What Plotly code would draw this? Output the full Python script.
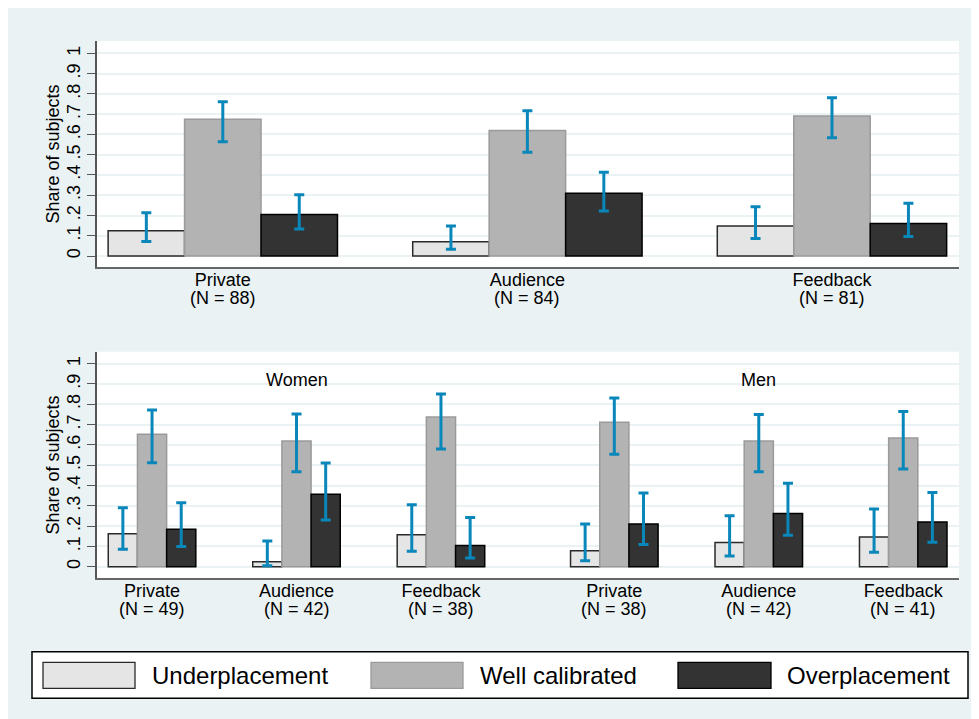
import plotly.graph_objects as go

# ---------------- data ----------------
top_categories = ["Private", "Audience", "Feedback"]
top_n = [88, 84, 81]
top_under = [0.125, 0.071, 0.148]
top_under_lo = [0.072, 0.033, 0.087]
top_under_hi = [0.214, 0.148, 0.243]
top_well = [0.675, 0.619, 0.691]
top_well_lo = [0.564, 0.512, 0.584]
top_well_hi = [0.761, 0.717, 0.781]
top_over = [0.205, 0.310, 0.160]
top_over_lo = [0.133, 0.222, 0.097]
top_over_hi = [0.302, 0.414, 0.260]

genders = ["Women", "Men"]
bottom_categories = ["Private", "Audience", "Feedback", "Private", "Audience", "Feedback"]
bottom_n = [49, 42, 38, 38, 42, 41]
bottom_under = [0.163, 0.024, 0.158, 0.079, 0.119, 0.146]
bottom_under_lo = [0.086, 0.005, 0.076, 0.030, 0.053, 0.071]
bottom_under_hi = [0.291, 0.127, 0.305, 0.210, 0.251, 0.284]
bottom_well = [0.653, 0.619, 0.737, 0.711, 0.619, 0.634]
bottom_well_lo = [0.512, 0.468, 0.580, 0.554, 0.468, 0.481]
bottom_well_hi = [0.772, 0.752, 0.851, 0.831, 0.750, 0.764]
bottom_over = [0.184, 0.357, 0.105, 0.211, 0.262, 0.220]
bottom_over_lo = [0.100, 0.230, 0.043, 0.110, 0.155, 0.120]
bottom_over_hi = [0.315, 0.511, 0.243, 0.363, 0.411, 0.366]

series_names = ["Underplacement", "Well calibrated", "Overplacement"]
y_ticks = [0, 0.1, 0.2, 0.3, 0.4, 0.5, 0.6, 0.7, 0.8, 0.9, 1]
y_ticktext = ["0", ".1", ".2", ".3", ".4", ".5", ".6", ".7", ".8", ".9", "1"]

# ---------------- styling ----------------
W, H = 979, 719
OX, OY = 8, 8  # page offset of the figure (browser body margin)
BG = "#EAF2F3"
FILLS = ["#E5E5E5", "#B3B3B3", "#333333"]
LINES = ["#2a2a2a", "#9a9a9a", "#000000"]
CI = "#0A87BA"
FONT = "Liberation Sans, Arial, sans-serif"


def px(x):
    return (x - OX) / W


def py(y):
    return 1 - (y - OY) / H


fig = go.Figure()

top_x = list(range(len(top_categories)))
gap = 0.2
bottom_x = [g * (3 + gap) + t for g in range(len(genders)) for t in range(3)]

top_sets = [(top_under, top_under_lo, top_under_hi),
            (top_well, top_well_lo, top_well_hi),
            (top_over, top_over_lo, top_over_hi)]
bottom_sets = [(bottom_under, bottom_under_lo, bottom_under_hi),
               (bottom_well, bottom_well_lo, bottom_well_hi),
               (bottom_over, bottom_over_lo, bottom_over_hi)]


def add_bars(xs, sets, w, xa, ya):
    for k, (vals, lo, hi) in enumerate(sets):
        fig.add_trace(go.Bar(
            x=xs, y=vals, width=w, offset=(k - 1.5) * w,
            name=series_names[k], showlegend=False,
            marker=dict(color=FILLS[k], line=dict(color=LINES[k], width=1.5)),
            error_y=dict(type="data", symmetric=False,
                         array=[h - v for v, h in zip(vals, hi)],
                         arrayminus=[v - l for v, l in zip(vals, lo)],
                         color=CI, thickness=3, width=5),
            xaxis=xa, yaxis=ya, hoverinfo="skip"))


add_bars(top_x, top_sets, 0.251, "x", "y")
add_bars(bottom_x, bottom_sets, 0.202, "x2", "y2")

xdom = [px(97), px(959)]
top_dom = [py(267), py(41)]
bot_dom = [py(578.3), py(351.7)]

yaxis_common = dict(
    tickvals=y_ticks, ticktext=y_ticktext, tickangle=-90,
    ticks="outside", ticklen=8, tickwidth=1.3, tickcolor="#555555",
    showline=True, linecolor="#555555", linewidth=1.5,
    showgrid=True, gridcolor=BG, gridwidth=2, zeroline=False,
    tickfont=dict(size=18, color="#000000", family=FONT),
    title=dict(text="Share of subjects", font=dict(size=18, color="#000000", family=FONT), standoff=0),
)
xaxis_common = dict(
    showline=True, linecolor="#666666", linewidth=2, showgrid=False, zeroline=False,
    ticks="", tickfont=dict(size=18, color="#000000", family=FONT), ticklabelstandoff=-5,
)

fig.update_layout(
    width=W, height=H,
    margin=dict(l=0, r=0, t=0, b=0),
    paper_bgcolor=BG, plot_bgcolor="#FFFFFF",
    barmode="overlay",
    showlegend=False,
    font=dict(family=FONT, color="#000000"),
    xaxis=dict(domain=xdom, range=[-0.413, 2.417], tickmode="array", tickvals=top_x,
               ticktext=top_categories, anchor="y", **xaxis_common),
    yaxis=dict(domain=top_dom, range=[-0.054, 1.061], anchor="x", **yaxis_common),
    xaxis2=dict(domain=xdom, range=[-0.381, 5.586], tickmode="array", tickvals=bottom_x,
                ticktext=bottom_categories, anchor="y2", **xaxis_common),
    yaxis2=dict(domain=bot_dom, range=[-0.057, 1.059], anchor="x2", **yaxis_common),
)

# sample-size line under each category label
for xv, n in zip(top_x, top_n):
    fig.add_annotation(x=xv, y=py(297.5), xref="x", yref="paper", text=f"(N = {n})",
                       showarrow=False, yanchor="middle",
                       font=dict(size=18, color="#000000", family=FONT))
for xv, n in zip(bottom_x, bottom_n):
    fig.add_annotation(x=xv, y=py(608.5), xref="x2", yref="paper", text=f"(N = {n})",
                       showarrow=False, yanchor="middle",
                       font=dict(size=18, color="#000000", family=FONT))

# group labels (Women / Men)
for g, name in enumerate(genders):
    fig.add_annotation(x=g * (3 + gap) + 1, y=0.92, xref="x2", yref="y2", text=name,
                       showarrow=False, font=dict(size=18, color="#000000", family=FONT))

shapes = []
# legend box
shapes.append(dict(type="rect", xref="paper", yref="paper", x0=px(32), x1=px(968),
                   y0=py(698.3), y1=py(651.7), fillcolor="#FFFFFF",
                   line=dict(color="#000000", width=1.5), layer="above"))
key_x = [(43, 135), (371, 463), (678, 771)]
text_x = [150, 478, 785]
for k in range(3):
    shapes.append(dict(type="rect", xref="paper", yref="paper", x0=px(key_x[k][0]), x1=px(key_x[k][1]),
                       y0=py(688.3), y1=py(662.3), fillcolor=FILLS[k],
                       line=dict(color=LINES[k], width=1.3), layer="above"))
    fig.add_annotation(x=px(text_x[k]), y=py(675.5), xref="paper", yref="paper", text=series_names[k],
                       xanchor="left", yanchor="middle", showarrow=False,
                       font=dict(size=24, color="#000000", family=FONT))
fig.update_layout(shapes=shapes)

fig.write_html("out.html")
